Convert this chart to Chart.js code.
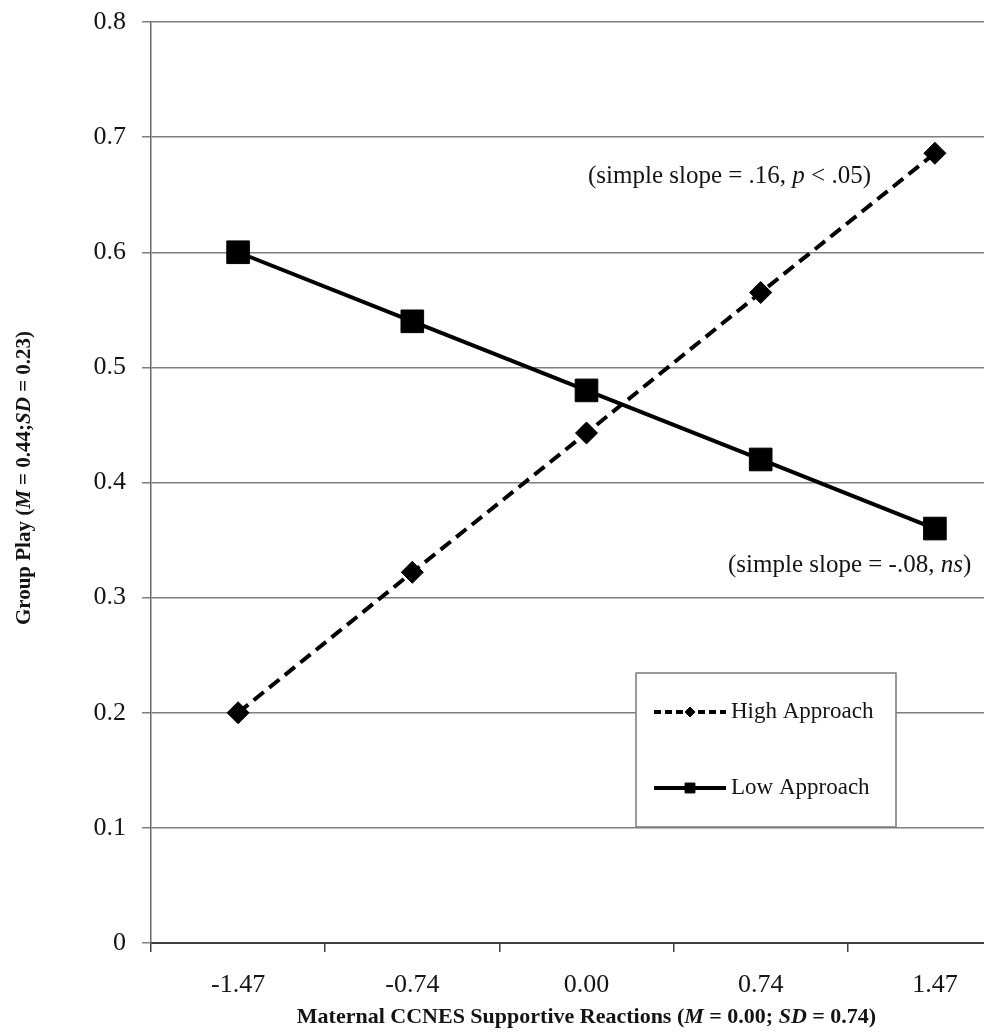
<!DOCTYPE html>
<html>
<head>
<meta charset="utf-8">
<title>Group Play by Maternal Supportive Reactions</title>
<script src="https://cdn.jsdelivr.net/npm/chart.js@4.4.1/dist/chart.umd.min.js"></script>
<style>
  html, body { margin: 0; padding: 0; background: #fff; overflow: hidden; }
  #wrap { width: 984px; height: 1034px; overflow: hidden; }
  canvas { display: block; }
</style>
</head>
<body>
<div id="wrap"><canvas id="slopeChart" width="1039" height="1034"></canvas></div>
<script>
const categories = ['-1.47', '-0.74', '0.00', '0.74', '1.47'];
const highApproach = [0.200, 0.322, 0.443, 0.565, 0.686];
const lowApproach = [0.600, 0.540, 0.480, 0.420, 0.360];
const seriesNames = ['High Approach', 'Low Approach'];
const yTicks = [0, 0.1, 0.2, 0.3, 0.4, 0.5, 0.6, 0.7, 0.8];

const serif = '"Liberation Serif", "Times New Roman", serif';
const ink = '#141414';

// text pieces: [text, italic]
const yTitle = [['Group Play (', false], ['M', true], [' = 0.44;', false], ['SD', true], [' = 0.23)', false]];
const xTitle = [['Maternal CCNES Supportive Reactions (', false], ['M', true], [' = 0.00; ', false], ['SD', true], [' = 0.74)', false]];
const noteHigh = [['(simple slope = .16, ', false], ['p', true], [' < .05)', false]];
const noteLow = [['(simple slope = -.08, ', false], ['ns', true], [')', false]];

function drawRich(ctx, parts, x, y, size, weight, align) {
    const fontFor = it => (it ? 'italic ' : '') + weight + ' ' + size + 'px ' + serif;
    let total = 0;
    parts.forEach(p => { ctx.font = fontFor(p[1]); total += ctx.measureText(p[0]).width; });
    let cx = align === 'center' ? x - total / 2 : x;
    ctx.textAlign = 'left';
    ctx.textBaseline = 'alphabetic';
    parts.forEach(p => {
        ctx.font = fontFor(p[1]);
        ctx.fillText(p[0], cx, y);
        cx += ctx.measureText(p[0]).width;
    });
}

const extras = {
    id: 'extras',
    beforeDraw(chart) {
        const c = chart.ctx;
        c.save();
        c.fillStyle = '#fff';
        c.fillRect(0, 0, chart.width, chart.height);
        c.restore();
    },
    afterDraw(chart) {
        const c = chart.ctx;
        const area = chart.chartArea;
        c.save();
        c.fillStyle = ink;

        // axis titles
        drawRich(c, xTitle, (area.left + area.right) / 2, 1023, 22, 'bold', 'center');
        c.save();
        c.translate(30, 478);
        c.rotate(-Math.PI / 2);
        drawRich(c, yTitle, 0, 0, 21, 'bold', 'center');
        c.restore();

        // slope notes
        drawRich(c, noteHigh, 588, 183, 25, 'normal', 'left');
        drawRich(c, noteLow, 728, 572, 25, 'normal', 'left');

        // legend box
        const bx = 636, by = 673, bw = 260, bh = 154;
        c.fillStyle = '#fff';
        c.fillRect(bx, by, bw, bh);
        c.strokeStyle = '#7a7a7a';
        c.lineWidth = 1.5;
        c.strokeRect(bx, by, bw, bh);

        const rows = [712, 788];
        chart.data.datasets.forEach((ds, i) => {
            const y = rows[i];
            c.save();
            c.strokeStyle = ds.borderColor;
            c.lineWidth = 4;
            c.setLineDash(i === 0 ? [7, 4] : []);
            c.beginPath();
            c.moveTo(654, y);
            c.lineTo(726, y);
            c.stroke();
            c.restore();
            c.fillStyle = ds.pointBackgroundColor;
            c.strokeStyle = ds.pointBorderColor;
            c.lineWidth = 1;
            Chart.helpers.drawPoint(c, {
                pointStyle: ds.pointStyle,
                radius: i === 0 ? 5 : 7,
                borderWidth: 1
            }, 690, y);
            c.fillStyle = ink;
            c.font = '23px ' + serif;
            c.textAlign = 'left';
            c.textBaseline = 'middle';
            c.fillText(ds.label, 731, y);
        });
        c.restore();
    }
};

new Chart(document.getElementById('slopeChart'), {
    type: 'line',
    data: {
        labels: categories,
        datasets: [{
            label: seriesNames[0],
            data: highApproach,
            borderColor: '#000',
            backgroundColor: '#000',
            borderWidth: 4,
            borderDash: [13, 7],
            pointStyle: 'rectRot',
            pointRadius: 11,
            pointBorderWidth: 1,
            pointBackgroundColor: '#000',
            pointBorderColor: '#000',
            tension: 0
        }, {
            label: seriesNames[1],
            data: lowApproach,
            borderColor: '#000',
            backgroundColor: '#000',
            borderWidth: 4,
            pointStyle: 'rect',
            pointRadius: 16,
            pointBorderWidth: 1,
            pointBackgroundColor: '#000',
            pointBorderColor: '#000',
            tension: 0
        }]
    },
    options: {
        responsive: false,
        animation: false,
        layout: { padding: { top: 22, right: 9, left: 0, bottom: 0 } },
        plugins: {
            legend: { display: false },
            tooltip: { enabled: false }
        },
        scales: {
            x: {
                offset: true,
                grid: {
                    offset: true,
                    drawOnChartArea: false,
                    drawTicks: true,
                    tickLength: 9,
                    color: '#404040',
                    lineWidth: 1.5
                },
                border: { color: '#404040', width: 2 },
                ticks: {
                    color: ink,
                    font: { family: serif, size: 26 },
                    padding: 18,
                    maxRotation: 0
                },
                afterFit: s => { s.height = 91; }
            },
            y: {
                min: 0,
                max: 0.8,
                afterBuildTicks: s => { s.ticks = yTicks.map(v => ({ value: v })); },
                grid: {
                    color: '#7f7f7f',
                    lineWidth: 1.5,
                    tickLength: 9
                },
                border: { color: '#6a6a6a', width: 1.5 },
                ticks: {
                    color: ink,
                    font: { family: serif, size: 26 },
                    padding: 16,
                    callback: v => (v === 0 ? '0' : v.toFixed(1))
                },
                afterFit: s => { s.width = 151; s.paddingTop = 0; s.paddingBottom = 0; }
            }
        }
    },
    plugins: [extras]
});
</script>
</body>
</html>
